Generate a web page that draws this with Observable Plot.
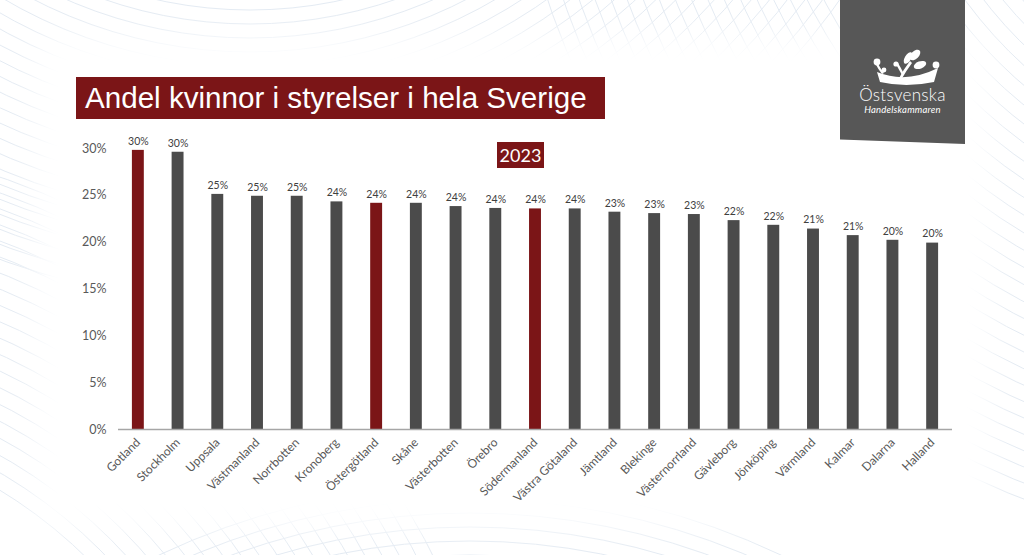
<!DOCTYPE html>
<html>
<head>
<meta charset="utf-8">
<script src="https://cdn.jsdelivr.net/npm/d3@7"></script>
<script src="https://cdn.jsdelivr.net/npm/@observablehq/plot@0.6"></script>
<style>
  html, body { margin: 0; padding: 0; background: #fff; }
  #page { position: relative; width: 1024px; height: 555px; overflow: hidden; background: #fff; font-family: Lato, "Open Sans", sans-serif; }
  #bg { position: absolute; left: 0; top: 0; }
  #panel { position: absolute; left: 60px; top: 62px; width: 905px; height: 440px; background: #fff; box-shadow: 0 0 28px 26px #fff; }
  #title { position: absolute; left: 76px; top: 77px; width: 529px; height: 42px; background: #7b1517; color: #fff;
           font-family: "Liberation Sans", Arial, sans-serif; font-size: 29.6px; line-height: 42px; box-sizing: border-box; padding-left: 9px; white-space: nowrap; }
  #year { position: absolute; left: 497px; top: 142px; width: 47px; height: 26px; background: #7b1517; color: #fff;
          font-family: Lato, sans-serif; font-size: 18px; line-height: 26px; text-align: center; }
  #logo { position: absolute; left: 840px; top: -2px; width: 125px; height: 146px; background: #575757;
          clip-path: polygon(0 0, 100% 0, 100% 100%, 0 97%); }
  #logo .name { position: absolute; left: 0; width: 125px; text-align: center; color: #fff; }
  #chart { position: absolute; left: 0; top: 130px; }
</style>
</head>
<body>
<div id="page">
  <svg id="bg" width="1024" height="555"></svg>
  <div id="panel"></div>
  <div id="chart"></div>
  <div id="title">Andel kvinnor i styrelser i hela Sverige</div>
  <div id="year">2023</div>
  <div id="logo">
    <svg width="125" height="90" style="position:absolute;left:0;top:0">
      <g fill="#fff">
        <path d="M37,74 Q66,86 98,70 L94,84 Q66,90 40,84 Z"/>
        <circle cx="37" cy="64" r="3.4"/>
        <path d="M37,64 Q40,70 44,75 L42,76 Q38,71 35,65 Z"/>
        <circle cx="44" cy="72" r="2.4"/>
        <ellipse cx="68" cy="60" rx="3.2" ry="6.5" transform="rotate(30 68 60)"/>
        <ellipse cx="75" cy="57" rx="3.8" ry="6.5" transform="rotate(45 75 57)"/>
        <ellipse cx="80" cy="67" rx="3.6" ry="6.5" transform="rotate(70 80 67)"/>
        <path d="M58,82 Q63,72 70,63 L72,65 Q66,73 61,82 Z"/>
        <path d="M62,77 Q58,70 56,66 L58,65 Q61,70 64,76 Z"/>
        <circle cx="56" cy="66" r="2.6"/>
        <circle cx="96" cy="67" r="3.4"/>
      </g>
    </svg>
    <div class="name" style="top:86px;font-size:17px;font-weight:300;letter-spacing:0.3px;">Östsvenska</div>
    <div class="name" style="top:106px;font-size:9.5px;font-style:italic;letter-spacing:0.2px;">Handelskammaren</div>
  </div>
</div>
<script>
// ---- data ----
const regions = ["Gotland","Stockholm","Uppsala","Västmanland","Norrbotten","Kronoberg","Östergötland","Skåne","Västerbotten","Örebro","Södermanland","Västra Götaland","Jämtland","Blekinge","Västernorrland","Gävleborg","Jönköping","Värmland","Kalmar","Dalarna","Halland"];
const sharePct = [29.8, 29.6, 25.1, 24.9, 24.9, 24.3, 24.15, 24.15, 23.8, 23.6, 23.55, 23.55, 23.2, 23.05, 22.95, 22.3, 21.8, 21.4, 20.7, 20.2, 19.9];
const highlighted = ["Gotland", "Östergötland", "Södermanland"];
const yTicks = [0, 5, 10, 15, 20, 25, 30];

// ---- decorative background arcs ----
(function () {
  const svg = d3.select("#bg");
  const groups = [
    {cx: 250, cy: -420, r0: 430, n: 22, step: 14},
    {cx: 1320, cy: -260, r0: 380, n: 30, step: 15},
    {cx: 470, cy: 1210, r0: 655, n: 6, step: 14},
    {cx: -250, cy: 900, r0: 480, n: 20, step: 15}
  ];
  for (const g of groups) {
    for (let i = 0; i < g.n; i++) {
      svg.append("circle").attr("cx", g.cx).attr("cy", g.cy).attr("r", g.r0 + i * g.step)
        .attr("fill", "none").attr("stroke", "#e4ebf3").attr("stroke-width", 1);
    }
  }
})();

// ---- chart ----
const data = regions.map((r, i) => ({region: r, value: sharePct[i], hl: highlighted.includes(r)}));

const chart = Plot.plot({
  width: 1024,
  height: 425,
  marginLeft: 118,
  marginRight: 72,
  marginTop: 18,
  marginBottom: 126,
  style: {background: "transparent", fontFamily: "Lato, 'Open Sans', sans-serif"},
  x: {domain: regions, paddingInner: 0.7, paddingOuter: 0.35, round: false, label: null},
  y: {domain: [0, 30], label: null},
  marks: [
    Plot.barY(data, {x: "region", y: "value", fill: d => d.hl ? "#7b1517" : "#4b4b4b"}),
    Plot.ruleY([0], {stroke: "#a6a6a6", strokeWidth: 1.5}),
    Plot.text(data, {x: "region", y: "value", text: d => Math.round(d.value) + "%", dy: -9,
                     fontSize: 10.5, fill: "#404040"}),
    Plot.axisY({ticks: yTicks, tickFormat: d => d + "%", tickSize: 0, tickPadding: 12,
                fontSize: 12.5, color: "#595959", label: null}),
    Plot.axisX({tickSize: 0, tickRotate: -45, tickPadding: 11, fontSize: 12, color: "#595959", label: null})
  ]
});
document.getElementById("chart").appendChild(chart);
</script>
</body>
</html>
